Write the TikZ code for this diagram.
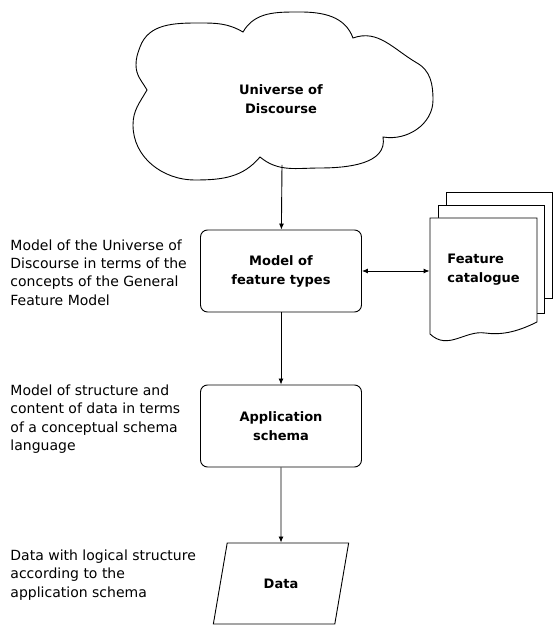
\documentclass[tikz,border=0pt]{standalone}
\usepackage{fontspec}
\setmainfont{DejaVu Sans}
\usetikzlibrary{positioning,arrows.meta,shapes.geometric,calc}

\begin{document}
\begin{tikzpicture}[
  x=1pt, y=1pt,
  line width=0.9pt,
  font=\fontsize{14}{18.4}\selectfont,
  boxtext/.style={font=\bfseries\fontsize{13}{19}\selectfont, align=center},
  modelbox/.style={boxtext, draw, rounded corners=7pt, minimum width=161pt},
  sidenote/.style={anchor=west, align=left, inner sep=0pt},
  flowarrow/.style={-{Latex[length=6pt,width=5pt]}},
  page/.style={draw, fill=white}
]
\useasboundingbox (0,0) rectangle (554,626);

% ---- Universe of Discourse (cloud) ----
\draw[fill=white] (140,579) to[out=70,in=180] (200,603) to[out=0,in=150] (243,594)
  to[out=60,in=180] (300,614) to[out=0,in=110] (353,588)
  to[out=20,in=150] (417,563) to[out=-30,in=90] (433,526) to[out=-90,in=-10] (383,489)
  to[out=-80,in=0] (320,458) to[out=180,in=-40] (260,469)
  to[out=-130,in=0] (195,446) to[out=180,in=-90] (133,501) to[out=90,in=-120] (147,536)
  to[out=120,in=-90] (136,561) to[out=90,in=-110] (140,579) -- cycle;
\node[boxtext] (uod) at (281,527) {Universe of\\Discourse};
\coordinate (uodbot) at (282,461);

% ---- Main chain ----
\node[modelbox, minimum height=82pt] (model) at (281,355) {Model of\\feature types};
\node[modelbox, minimum height=82pt] (appschema) at (281,200) {Application\\schema};
\node[boxtext, draw, trapezium, trapezium left angle=72, trapezium right angle=108,
  trapezium stretches=true, minimum width=136pt, minimum height=81pt] (data) at (281,42.5) {Data};

\draw[flowarrow] (uodbot) -- (model);
\draw[flowarrow] (model) -- (appschema);
\draw[flowarrow] (appschema) -- (data);

% ---- Feature catalogue (stack of pages) ----
\draw[page] (446,328) rectangle (552,434);
\draw[page] (438,313) rectangle (544,421);
\draw[page] (430,408) -- (537,408) -- (537,304)
  .. controls (515,293) and (500,291) .. (485,293)
  .. controls (465,296) and (448,275) .. (430,292) -- cycle;
\node[boxtext, align=left, minimum width=107pt, minimum height=104pt] (fcat) at (483.5,356) {Feature\\catalogue};

\draw[{Latex[length=6pt,width=5pt]}-{Latex[length=6pt,width=5pt]}] (model.east) -- (model.east -| fcat.west);

% ---- Notes on the left ----
\node[sidenote] (gfmnote) at (10,353.5) {Model of the Universe of\\Discourse in terms of the\\concepts of the General\\Feature Model};
\node[sidenote] (schemanote) at (10,207) {Model of structure and\\content of data in terms\\of a conceptual schema\\language};
\node[sidenote] (datanote) at (10,51) {Data with logical structure\\according to the\\application schema};

\end{tikzpicture}
\end{document}
